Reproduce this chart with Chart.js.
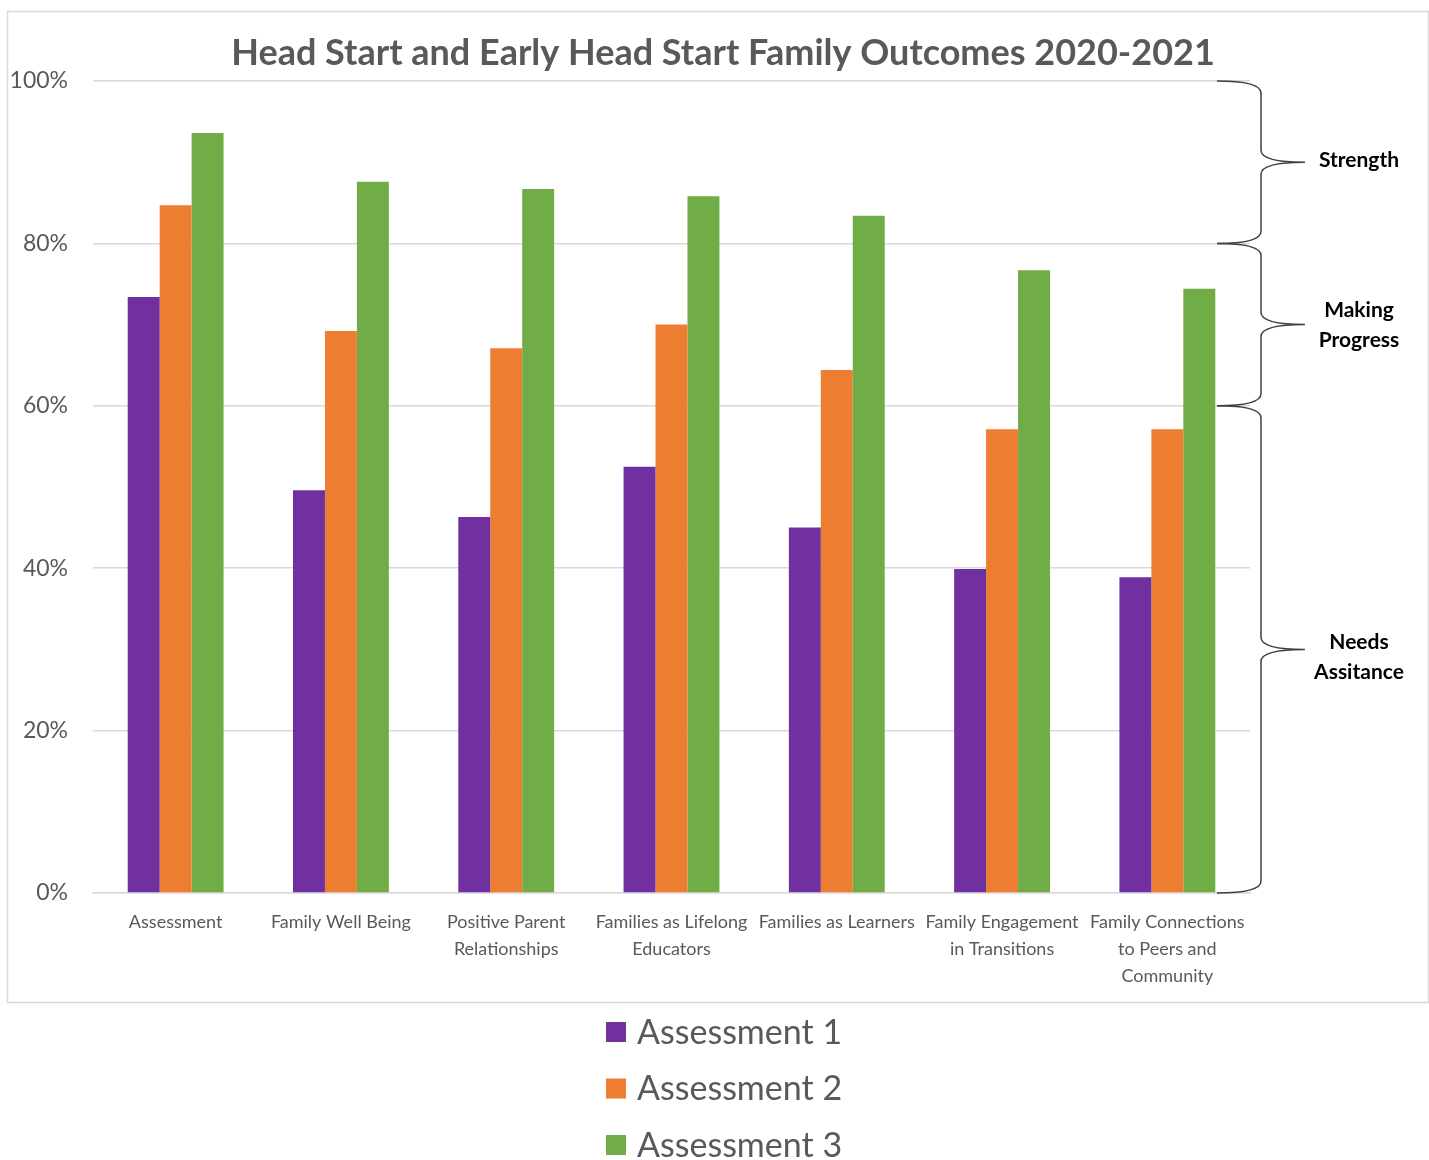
<!DOCTYPE html>
<html>
<head>
<meta charset="utf-8">
<script src="https://cdn.jsdelivr.net/npm/chart.js@4.4.1/dist/chart.umd.min.js"></script>
<style>
  html, body { margin: 0; padding: 0; background: #fff; }
  #wrap { width: 1429px; height: 1160px; position: relative; }
</style>
</head>
<body>
<div id="wrap"><canvas id="chart" width="1429" height="1160"></canvas></div>
<script>
const categories = [
  'Assessment',
  'Family Well Being',
  ['Positive Parent', 'Relationships'],
  ['Families as Lifelong', 'Educators'],
  'Families as Learners',
  ['Family Engagement', 'in Transitions'],
  ['Family Connections', 'to Peers and', 'Community']
];
const seriesNames = ['Assessment 1', 'Assessment 2', 'Assessment 3'];
const assessment1 = [73.4, 49.6, 46.3, 52.5, 45.0, 39.9, 38.9];
const assessment2 = [84.7, 69.2, 67.1, 70.0, 64.4, 57.1, 57.1];
const assessment3 = [93.6, 87.6, 86.7, 85.8, 83.4, 76.7, 74.4];
const bandLimits = [100, 80, 60, 0];
const bandLabels = [['Strength'], ['Making', 'Progress'], ['Needs', 'Assitance']];
const chartTitle = 'Head Start and Early Head Start Family Outcomes 2020-2021';
const colors = ['#7030A0', '#ED7D31', '#70AD47'];
const FONT = 'Lato, "Noto Sans", sans-serif';

const decor = {
  id: 'decor',
  beforeDraw(chart) {
    const c = chart.ctx;
    c.save();
    c.fillStyle = '#fff';
    c.fillRect(0, 0, chart.width, chart.height);
    c.strokeStyle = '#d9d9d9';
    c.lineWidth = 1.5;
    c.strokeRect(7.5, 11.5, 1421, 991);
    c.restore();
  },
  afterDraw(chart) {
    const c = chart.ctx;
    const y = chart.scales.y;
    c.save();
    // title
    c.fillStyle = '#595959';
    c.font = 'bold 36px ' + FONT;
    c.textAlign = 'center';
    c.textBaseline = 'middle';
    c.fillText(chartTitle, 723, 53);

    // braces with labels
    const x0 = 1217, x1 = 1261, x2 = 1305, r = 12;
    const labelShift = [-2, 1, 8];
    c.strokeStyle = '#404040';
    c.lineWidth = 1.5;
    bandLabels.forEach((lbl, i) => {
      const top = y.getPixelForValue(bandLimits[i]);
      const bot = y.getPixelForValue(bandLimits[i + 1]);
      const mid = (top + bot) / 2;
      c.beginPath();
      c.moveTo(x0, top);
      c.quadraticCurveTo(x1, top, x1, top + r);
      c.lineTo(x1, mid - r);
      c.quadraticCurveTo(x1, mid, x2, mid);
      c.quadraticCurveTo(x1, mid, x1, mid + r);
      c.lineTo(x1, bot - r);
      c.quadraticCurveTo(x1, bot, x0, bot);
      c.stroke();
      c.fillStyle = '#000';
      c.font = 'bold 21px ' + FONT;
      const lh = 30;
      const start = mid + labelShift[i] - (lbl.length - 1) * lh / 2;
      lbl.forEach((t, k) => c.fillText(t, 1359, start + k * lh));
    });

    // legend (vertical, below the frame)
    c.textAlign = 'left';
    c.font = '34px ' + FONT;
    chart.data.datasets.forEach((ds, i) => {
      const cy = 1032 + i * 56.5;
      c.fillStyle = ds.backgroundColor;
      c.fillRect(606, cy - 10, 20, 20);
      c.fillStyle = '#595959';
      c.fillText(ds.label, 637, cy + 1);
    });
    c.restore();
  }
};

new Chart(document.getElementById('chart'), {
  type: 'bar',
  data: {
    labels: categories,
    datasets: [
      { label: seriesNames[0], data: assessment1, backgroundColor: colors[0] },
      { label: seriesNames[1], data: assessment2, backgroundColor: colors[1] },
      { label: seriesNames[2], data: assessment3, backgroundColor: colors[2] }
    ]
  },
  options: {
    responsive: false,
    animation: false,
    categoryPercentage: 0.58,
    barPercentage: 1,
    layout: { padding: { left: 0, right: 179, top: 81, bottom: 160 } },
    plugins: {
      legend: { display: false },
      tooltip: { enabled: false }
    },
    scales: {
      x: {
        grid: { display: false },
        border: { display: true, color: '#d9d9d9', width: 1.5 },
        ticks: {
          color: '#595959',
          font: { family: FONT, size: 18, lineHeight: 1.5 },
          padding: 8,
          maxRotation: 0,
          autoSkip: false
        },
        afterFit(s) { s.height = 107; }
      },
      y: {
        min: 0,
        max: 100,
        grid: { color: '#d9d9d9', lineWidth: 1.5, drawTicks: false },
        border: { display: false },
        ticks: {
          stepSize: 20,
          color: '#595959',
          font: { family: FONT, size: 23 },
          padding: 25,
          callback: v => v + '%'
        },
        afterFit(s) { s.width = 93; }
      }
    }
  },
  plugins: [decor]
});
</script>
</body>
</html>
